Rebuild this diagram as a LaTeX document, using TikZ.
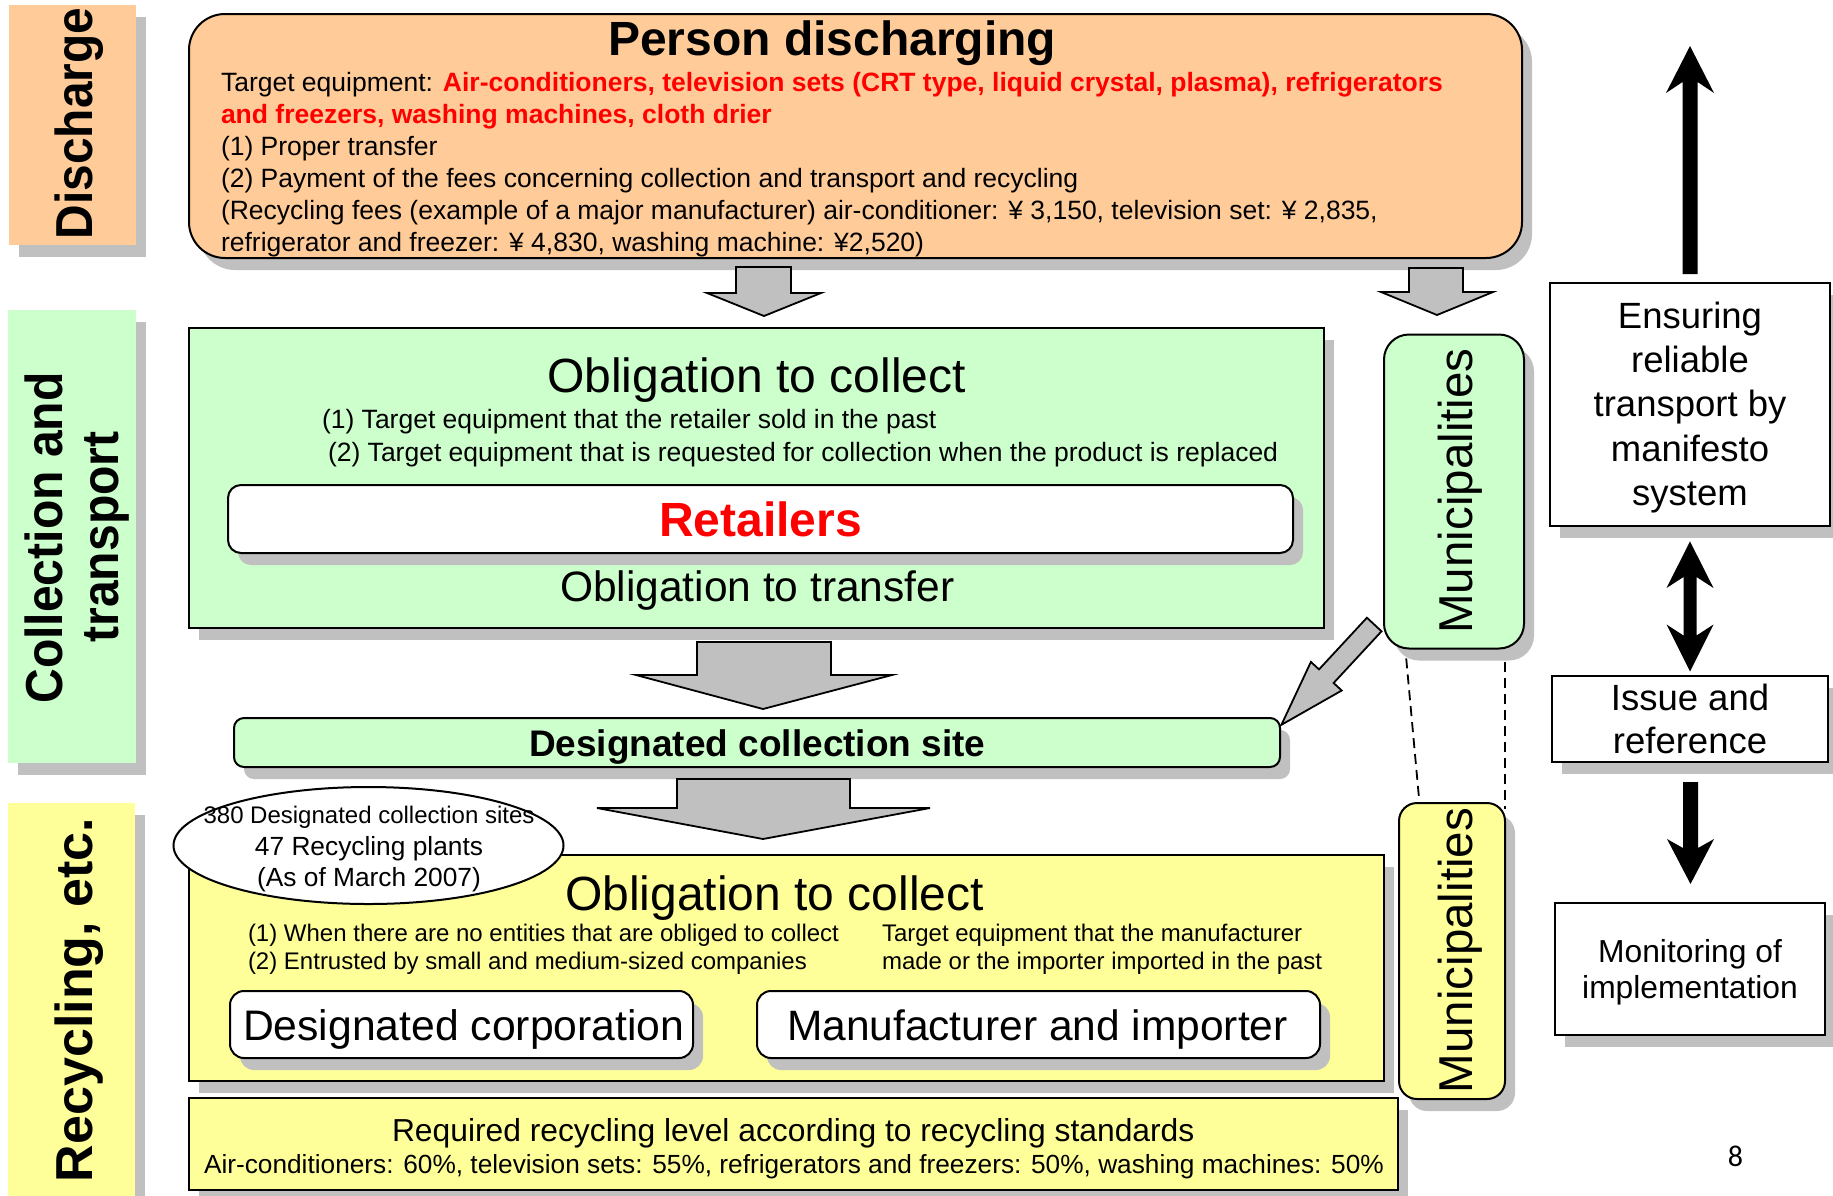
\documentclass[tikz,border=0pt]{standalone}
\usepackage{fontspec}
\setmainfont{Liberation Sans}
\newfontfamily\slidenumfont{Carlito}
\usetikzlibrary{shadows,fit,shapes.geometric}
\definecolor{peach}{HTML}{FFCC99}
\definecolor{lgreen}{HTML}{CCFFCC}
\definecolor{lyellow}{HTML}{FFFF99}
\definecolor{shgray}{HTML}{C0C0C0}
\definecolor{argray}{HTML}{C0C0C0}
\definecolor{redtxt}{HTML}{FF0000}
\newcommand\fsz[1]{\fontsize{#1pt}{#1pt}\selectfont}
\begin{document}
\begin{tikzpicture}[x=1pt,y=-1pt,
  shad/.style={drop shadow={opacity=1,fill=shgray,shadow xshift=10pt,shadow yshift=-12pt}},
  frame/.style={draw=black,line width=2pt,inner sep=0pt,outer sep=0pt,shad},
  tabbox/.style={draw=none,inner sep=0pt,outer sep=0pt,shad},
  txt/.style={inner sep=0pt,outer sep=0pt},
  garrow/.style={draw=black,line width=1.8pt,fill=argray,line join=miter},
  karrow/.style={fill=black,draw=none},
  dashln/.style={draw=black,line width=1.8pt,dash pattern=on 10pt off 6pt},
]
\useasboundingbox (0,0) rectangle (1833,1195);
\fill[white] (0,0) rectangle (1833,1195);

% ---------- side tabs ----------
\node[tabbox,fill=peach,fit={(9,5)(136,245)}] (tabD) {};
\node[tabbox,fill=lgreen,fit={(8,310)(136,763)}] (tabC) {};
\node[tabbox,fill=lyellow,fit={(8,803)(135,1200)}] (tabR) {};
\node[txt,rotate=90,anchor=base,font=\bfseries\fsz{52}] (tD) at (92,123.5) {\scalebox{0.92}[1]{Discharge}};
\node[txt,rotate=90,anchor=base,font=\bfseries\fsz{52}] (tC1) at (62.4,538) {\scalebox{0.925}[1]{Collection and}};
\node[txt,rotate=90,anchor=base,font=\bfseries\fsz{52}] (tC2) at (118,537) {\scalebox{0.925}[1]{transport}};
\node[txt,rotate=90,anchor=base,font=\bfseries\fsz{52}] (tR) at (92,1000) {Recycling, etc.};

% ---------- person discharging ----------
\node[frame,fill=peach,rounded corners=36pt,fit={(189,14)(1522,258)}] (person) {};
\node[txt,anchor=base west,font=\bfseries\fsz{48}] (ptitle) at (608,55) {Person discharging};
\node[txt,anchor=base west,font=\fsz{26.5}] (p1) at (221,91) {Target equipment: {\bfseries\color{redtxt}Air-conditioners, television sets (CRT type, liquid crystal, plasma), refrigerators}};
\node[txt,anchor=base west,font=\bfseries\fsz{26.5},text=redtxt] (p2) at (221,123) {and freezers, washing machines, cloth drier};
\node[txt,anchor=base west,font=\fsz{26.5}] (p3) at (221,155) {(1) Proper transfer};
\node[txt,anchor=base west,font=\fsz{26.5}] (p4) at (221,187) {(2) Payment of the fees concerning collection and transport and recycling};
\node[txt,anchor=base west,font=\fsz{26.5}] (p5) at (221,219) {(Recycling fees (example of a major manufacturer) air-conditioner: ¥ 3,150, television set: ¥ 2,835,};
\node[txt,anchor=base west,font=\fsz{26.5}] (p6) at (221,251) {refrigerator and freezer: ¥ 4,830, washing machine: ¥2,520)};

% block arrows from person
\draw[garrow] (736,267) -- (791,267) -- (791,293) -- (821,293) -- (764,316) -- (707,293) -- (736,293) -- cycle;
\draw[garrow] (1409,268) -- (1463,268) -- (1463,292) -- (1493,292) -- (1437,315) -- (1381,292) -- (1409,292) -- cycle;

% ---------- collection and transport ----------
\node[frame,fill=lgreen,fit={(189,328)(1324,628)}] (coll) {};
\node[txt,anchor=base west,font=\fsz{48}] (c0) at (547,392) {Obligation to collect};
\node[txt,anchor=base west,font=\fsz{26.5}] (c1) at (322,428) {(1) Target equipment that the retailer sold in the past};
\node[txt,anchor=base west,font=\fsz{26.5}] (c2) at (328,461.5) {(2) Target equipment that is requested for collection when the product is replaced};
\node[frame,fill=white,rounded corners=13pt,fit={(228,485)(1293,553)}] (retail) {};
\node[txt,anchor=base west,font=\bfseries\fsz{48}] (rt) at (659,536) {\color{redtxt}Retailers};
\node[txt,anchor=base west,font=\fsz{42.5}] (c3) at (560,601) {Obligation to transfer};

% municipalities (green)
\node[frame,fill=lgreen,rounded corners=25pt,fit={(1384,334.5)(1524,648.5)}] (muniG) {};
\node[txt,rotate=90,anchor=base,font=\fsz{47.5}] (mG) at (1472.5,491) {Municipalities};

% arrow to designated site
\draw[garrow] (697,642) -- (831,642) -- (831,675) -- (892,675) -- (763,709) -- (636,675) -- (697,675) -- cycle;
% diagonal arrow from municipalities
\draw[garrow] (1366.9,617.7) -- (1319.0,669.4) -- (1310.9,661.9) -- (1281.4,724.8) -- (1341.7,690.5) -- (1333.6,683.0) -- (1381.5,631.3) -- cycle;

% designated collection site
\node[frame,fill=lgreen,rounded corners=10pt,fit={(234,718)(1280,767)}] (site) {};
\node[txt,anchor=base west,font=\bfseries\fsz{37}] (st) at (529,756) {Designated collection site};

% arrow to recycling
\draw[garrow] (677,779) -- (850,779) -- (850,808) -- (930,808) -- (763,839) -- (597,808) -- (677,808) -- cycle;

% ---------- recycling ----------
\node[frame,fill=lyellow,fit={(189,855)(1384,1081)}] (recyc) {};
\node[draw=black,line width=2pt,fill=white,ellipse,minimum width=390pt,minimum height=117pt,inner sep=0pt] (count) at (368.5,845.5) {};
\node[txt,anchor=base,font=\fsz{24}] (e1) at (369,823) {380 Designated collection sites};
\node[txt,anchor=base,font=\fsz{26.3}] (e2) at (369,855) {47 Recycling plants};
\node[txt,anchor=base,font=\fsz{26.3}] (e3) at (369,886) {(As of March 2007)};
\node[txt,anchor=base west,font=\fsz{48}] (r0) at (565,910) {Obligation to collect};
\node[txt,anchor=base west,font=\fsz{24}] (r1) at (248,941) {(1) When there are no entities that are obliged to collect};
\node[txt,anchor=base west,font=\fsz{24}] (r2) at (248,969) {(2) Entrusted by small and medium-sized companies};
\node[txt,anchor=base west,font=\fsz{24}] (r3) at (882,941) {Target equipment that the manufacturer};
\node[txt,anchor=base west,font=\fsz{24}] (r4) at (882,969) {made or the importer imported in the past};
\node[frame,fill=white,rounded corners=14pt,fit={(230,991)(693,1058)}] (desig) {};
\node[txt,anchor=base west,font=\fsz{42.7}] (dt) at (243,1040) {Designated corporation};
\node[frame,fill=white,rounded corners=14pt,fit={(757,991)(1320,1058)}] (manu) {};
\node[txt,anchor=base west,font=\fsz{42.5}] (mt) at (787,1040) {Manufacturer and importer};

\node[frame,fill=lyellow,fit={(189,1098)(1398,1190)}] (level) {};
\node[txt,anchor=base west,font=\fsz{31.8}] (l1) at (392,1141) {Required recycling level according to recycling standards};
\node[txt,anchor=base west,font=\fsz{26.25}] (l2) at (204,1173) {Air-conditioners: 60\%, television sets: 55\%, refrigerators and freezers: 50\%, washing machines: 50\%};

% municipalities (yellow)
\node[frame,fill=lyellow,rounded corners=18pt,fit={(1399,803)(1505,1099)}] (muniY) {};
\node[txt,rotate=90,anchor=base,font=\fsz{47.5}] (mY) at (1472.5,950.5) {Municipalities};

% dashed links
\coordinate (dA1) at (1406.2,658.4); \coordinate (dA2) at (1419.3,801.5);
\coordinate (dB1) at (1505.2,662.3); \coordinate (dB2) at (1505.2,809.3);
\draw[dashln] (dA1) -- (dA2);
\draw[dashln] (dB1) -- (dB2);

% ---------- right column ----------
\fill[karrow] (1690,46) -- (1714,93) -- (1697.5,82) -- (1697.5,274) -- (1682.5,274) -- (1682.5,82) -- (1666,93) -- cycle;
\node[frame,fill=white,fit={(1550,283)(1830,525.5)}] (ensure) {};
\node[txt,anchor=base,font=\fsz{36.5}] (en1) at (1690,328.5) {Ensuring};
\node[txt,anchor=base,font=\fsz{36.5}] (en2) at (1690,372.7) {reliable};
\node[txt,anchor=base,font=\fsz{36.5}] (en3) at (1690,416.9) {transport by};
\node[txt,anchor=base,font=\fsz{36.5}] (en4) at (1690,461.1) {manifesto};
\node[txt,anchor=base,font=\fsz{36.5}] (en5) at (1690,505.3) {system};

\fill[karrow] (1690,541.4) -- (1713.5,588) -- (1696.5,577) -- (1696.5,635.5) -- (1713.5,624.5) -- (1690,671.5) -- (1666.5,624.5) -- (1683.5,635.5) -- (1683.5,577) -- (1666.5,588) -- cycle;

\node[frame,fill=white,fit={(1552,676)(1828,761.5)}] (issue) {};
\node[txt,anchor=base,font=\fsz{36.5}] (is1) at (1690,710) {Issue and};
\node[txt,anchor=base,font=\fsz{36.5}] (is2) at (1690,753.5) {reference};

\fill[karrow] (1683,782) -- (1698,782) -- (1698,848) -- (1714,839) -- (1690.5,884) -- (1667,839) -- (1683,848) -- cycle;

\node[frame,fill=white,fit={(1555,903)(1825,1034.5)}] (monit) {};
\node[txt,anchor=base,font=\fsz{31.8}] (mo1) at (1690,962) {Monitoring of};
\node[txt,anchor=base,font=\fsz{31.8}] (mo2) at (1690,998.6) {implementation};

\node[txt,font=\slidenumfont\fsz{30}] (pnum) at (1735.5,1156) {8};
\end{tikzpicture}
\end{document}
